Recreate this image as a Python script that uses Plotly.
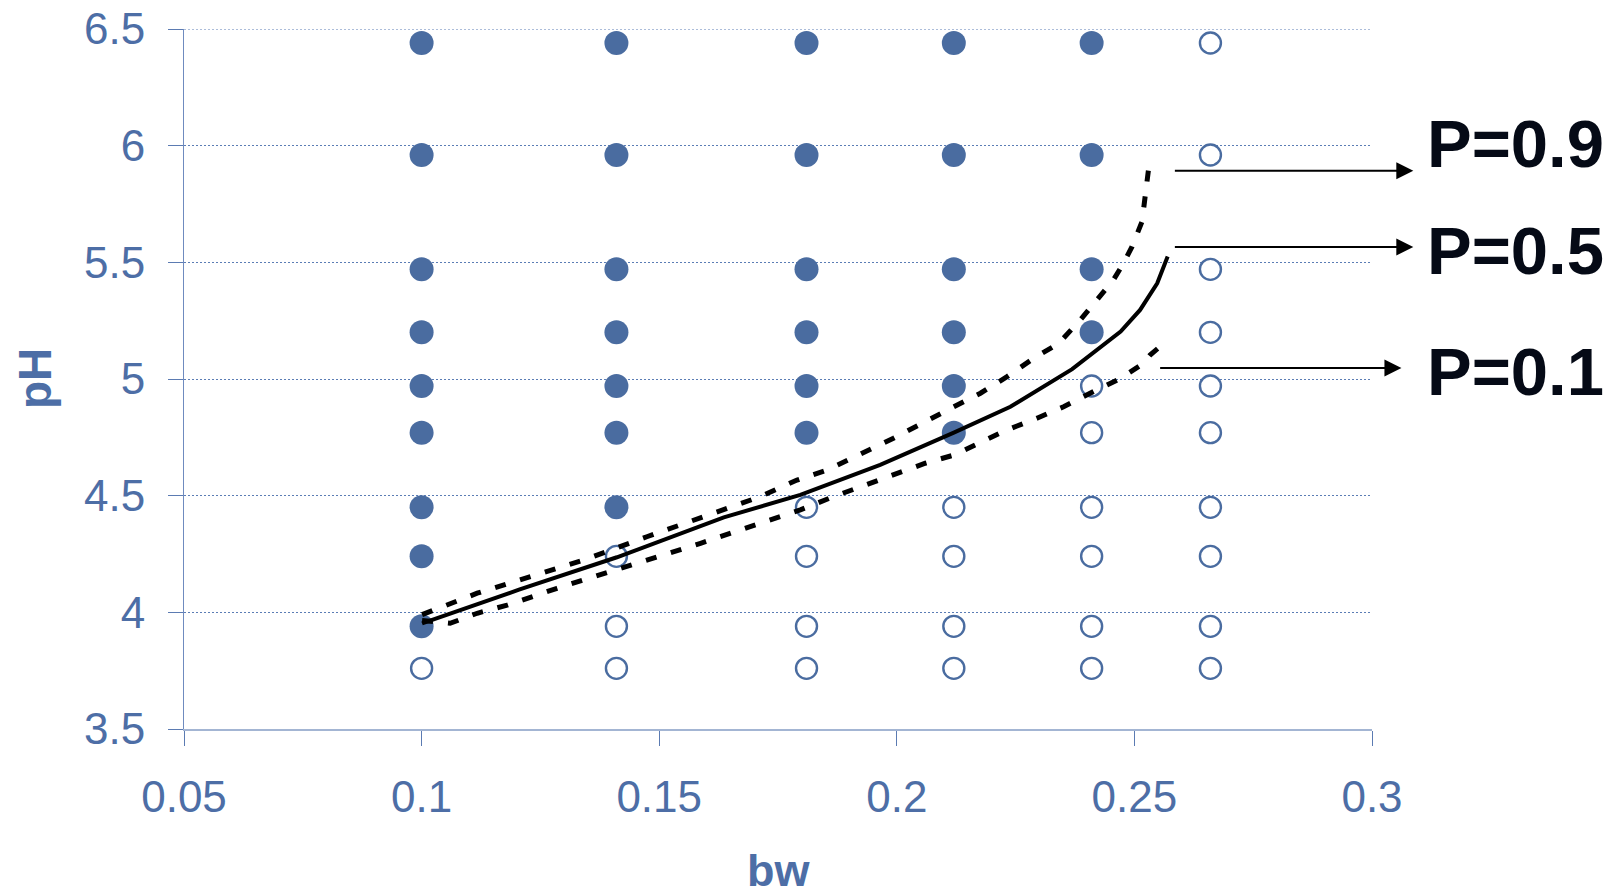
import plotly.graph_objects as go

# ---- data ----
bw_levels = [0.1, 0.141, 0.181, 0.212, 0.241, 0.266]
ph_levels = [6.44, 5.96, 5.47, 5.20, 4.97, 4.77, 4.45, 4.24, 3.94, 3.76]
# 1 = filled (growth), 0 = open (no growth); rows follow ph_levels, columns follow bw_levels
growth = [
    [1, 1, 1, 1, 1, 0],
    [1, 1, 1, 1, 1, 0],
    [1, 1, 1, 1, 1, 0],
    [1, 1, 1, 1, 1, 0],
    [1, 1, 1, 1, 0, 0],
    [1, 1, 1, 1, 0, 0],
    [1, 1, 0, 0, 0, 0],
    [1, 0, 0, 0, 0, 0],
    [1, 0, 0, 0, 0, 0],
    [0, 0, 0, 0, 0, 0],
]

p50_bw = [0.1001, 0.1205, 0.1411, 0.1636, 0.1797, 0.1965, 0.212, 0.2239, 0.2369, 0.2421, 0.2471, 0.2512, 0.2548, 0.257]
p50_ph = [3.953, 4.097, 4.236, 4.407, 4.503, 4.632, 4.77, 4.881, 5.042, 5.125, 5.203, 5.296, 5.41, 5.525]

p90_bw = [0.1001, 0.1117, 0.1229, 0.1341, 0.1474, 0.1587, 0.1713, 0.179, 0.1853, 0.1993, 0.2056, 0.212, 0.2176,
          0.2232, 0.2288, 0.2341, 0.2386, 0.2428, 0.2456, 0.2477, 0.2495, 0.2516, 0.2523, 0.253]
p90_ph = [3.99, 4.082, 4.153, 4.224, 4.324, 4.403, 4.496, 4.567, 4.61, 4.746, 4.81, 4.881, 4.939,
          5.01, 5.089, 5.153, 5.253, 5.353, 5.425, 5.496, 5.567, 5.674, 5.796, 5.903]

p10_bw = [0.1001, 0.106, 0.1117, 0.118, 0.1285, 0.1404, 0.1474, 0.1587, 0.1713, 0.1797, 0.1867, 0.1993, 0.206,
          0.212, 0.2176, 0.2232, 0.2295, 0.2351, 0.2414, 0.2471, 0.2519, 0.2533, 0.2558]
p10_ph = [3.965, 3.953, 3.996, 4.031, 4.103, 4.182, 4.224, 4.296, 4.382, 4.439, 4.496, 4.589, 4.639,
          4.674, 4.731, 4.782, 4.832, 4.881, 4.946, 5.003, 5.067, 5.103, 5.146]

labels = ["P=0.9", "P=0.5", "P=0.1"]
arrow_ph = [5.892, 5.566, 5.047]
label_ph = [6.01, 5.551, 5.033]
arrow_tail_bw = [0.2582, 0.2582, 0.2551]
arrow_head_bw = [0.3087, 0.3087, 0.3062]

x_ticks = [0.05, 0.1, 0.15, 0.2, 0.25, 0.3]
x_ticktext = ["0.05", "0.1", "0.15", "0.2", "0.25", "0.3"]
y_ticks = [3.5, 4, 4.5, 5, 5.5, 6, 6.5]
y_ticktext = ["3.5", "4", "4.5", "5", "5.5", "6", "6.5"]

BLUE = "#4A6CA0"
TXT = "#4D6EA6"
GRID = "#5B7DB5"
FONT = "Liberation Sans, Arial, sans-serif"

fx, fy, ox, oy = [], [], [], []
for i, ph in enumerate(ph_levels):
    for j, bw in enumerate(bw_levels):
        if growth[i][j]:
            fx.append(bw); fy.append(ph)
        else:
            ox.append(bw); oy.append(ph)

fig = go.Figure()
fig.add_trace(go.Scatter(x=fx, y=fy, mode="markers", name="growth",
                         marker=dict(size=24, color=BLUE, line=dict(width=0))))
fig.add_trace(go.Scatter(x=ox, y=oy, mode="markers", name="no growth",
                         marker=dict(size=21, color="white", symbol="circle",
                                     line=dict(width=2.4, color=BLUE))))
fig.add_trace(go.Scatter(x=p90_bw, y=p90_ph, mode="lines", name="P=0.9",
                         line=dict(color="black", width=5, dash="11px,15px")))
fig.add_trace(go.Scatter(x=p10_bw, y=p10_ph, mode="lines", name="P=0.1",
                         line=dict(color="black", width=5, dash="11px,15px")))
fig.add_trace(go.Scatter(x=p50_bw, y=p50_ph, mode="lines", name="P=0.5",
                         line=dict(color="black", width=4)))

for lab, ya, yl, xt, xh in zip(labels, arrow_ph, label_ph, arrow_tail_bw, arrow_head_bw):
    fig.add_annotation(x=xh, y=ya, ax=xt, ay=ya, xref="x", yref="y", axref="x", ayref="y",
                       text="", showarrow=True, arrowhead=2, arrowsize=1.7, arrowwidth=2,
                       arrowcolor="black")
    fig.add_annotation(x=1.0446, y=yl, xref="paper", yref="y", text=lab, showarrow=False,
                       xanchor="left", yanchor="middle",
                       font=dict(family=FONT, size=67, color="#050a16", weight="bold"))

# top gridline (at the upper range edge, where the grid layer would be clipped)
fig.add_shape(type="line", xref="paper", yref="y", x0=0, x1=1, y0=y_ticks[-1], y1=y_ticks[-1],
              line=dict(color=GRID, width=1, dash="2px,2px"), layer="below")

fig.add_annotation(x=-0.1254, y=0.5, xref="paper", yref="paper", text="<b>pH</b>", textangle=-90,
                   showarrow=False, xanchor="center", yanchor="middle",
                   font=dict(family=FONT, size=46, color=TXT))
fig.add_annotation(x=0.5, y=-0.2414, xref="paper", yref="paper", text="<b>bw</b>",
                   showarrow=False, xanchor="center", yanchor="bottom",
                   font=dict(family=FONT, size=45, color=TXT))

fig.update_layout(
    width=1621, height=896, autosize=False,
    margin=dict(l=184, r=249, t=29, b=167, pad=0),
    paper_bgcolor="white", plot_bgcolor="white",
    showlegend=False,
    xaxis=dict(range=[0.05, 0.3], tickvals=x_ticks, ticktext=x_ticktext, showgrid=False,
               zeroline=False, showline=True, linecolor="#A3B5D3", linewidth=2,
               ticks="outside", ticklen=15, tickwidth=1, tickcolor="#5B7BB2",
               ticklabelstandoff=13, automargin=False,
               tickfont=dict(family=FONT, size=44, color=TXT)),
    yaxis=dict(range=[3.5, 6.5], tickvals=y_ticks, ticktext=y_ticktext, showgrid=True,
               gridcolor=GRID, gridwidth=1, griddash="2px,2px",
               zeroline=False, showline=True, linecolor="#6F8BBF", linewidth=1,
               ticks="outside", ticklen=15, tickwidth=1, tickcolor="#5B7BB2",
               ticklabelstandoff=14, automargin=False,
               tickfont=dict(family=FONT, size=44, color=TXT)),
)

fig.write_html("out.html")
